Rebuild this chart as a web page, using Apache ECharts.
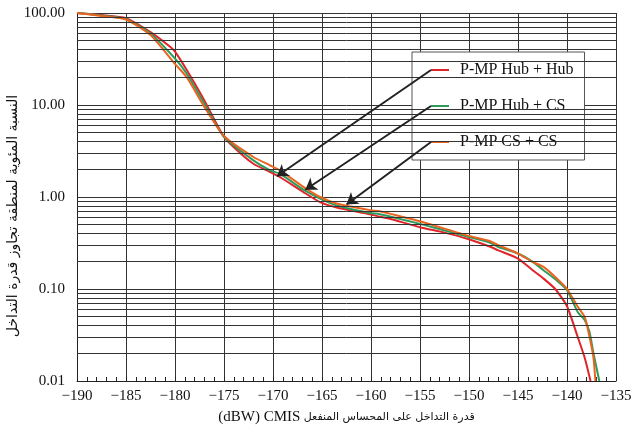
<!DOCTYPE html>
<html><head><meta charset="utf-8">
<script src="https://cdn.jsdelivr.net/npm/echarts@6/dist/echarts.min.js"></script>
<style>html,body{margin:0;padding:0;background:#fff}#c{width:635px;height:436px}</style>
</head><body><div id="c"></div>
<script>
const seriesNames = ['P-MP Hub + Hub', 'P-MP Hub + CS', 'P-MP CS + CS'];
const seriesColors = ['#e02428', '#2e9a5c', '#ea6420'];

const hubHubX = [-190, -187.5, -185, -182.5, -180.5, -180, -178.8, -177.1, -175, -173.5, -172, -170.3, -169.3, -166.9, -165.2, -163.5, -160.1, -159.1, -158.1, -155, -152.5, -150.1, -147.9, -147, -145, -143.5, -142.4, -141.2, -140, -138.9, -138.2, -137.6];
const hubHubY = [100, 95, 88, 62, 43, 38, 24, 11.7, 4.5, 3.1, 2.3, 1.87, 1.65, 1.13, 0.88, 0.77, 0.65, 0.61, 0.58, 0.47, 0.41, 0.35, 0.29, 0.263, 0.214, 0.16, 0.13, 0.10, 0.065, 0.030, 0.018, 0.01];

const hubCsX = [-190, -187.5, -185, -182.5, -180, -178.8, -177.1, -175, -172, -170.3, -169.3, -166.9, -165.2, -163.5, -160.1, -159.1, -155, -150.1, -147.9, -147, -145, -143.5, -142.4, -141.2, -140, -138.9, -138.2, -137.7, -137.3, -136.7];
const hubCsY = [100, 94, 86, 60, 32, 21.9, 10.8, 4.5, 2.5, 1.95, 1.79, 1.2, 0.96, 0.81, 0.67, 0.65, 0.51, 0.37, 0.32, 0.286, 0.243, 0.197, 0.16, 0.128, 0.097, 0.056, 0.046, 0.034, 0.02, 0.01];

const csCsX = [-190, -187.5, -185, -182.5, -180, -178.8, -177.1, -175, -172, -170.3, -169.3, -166.9, -165.2, -163.5, -160.1, -159.1, -158.1, -155, -150.1, -147.9, -147, -145, -143.5, -142.4, -141.2, -140, -138.9, -138.2, -137.7, -137.3, -137.1];
const csCsY = [100, 93, 85, 57.7, 28, 20, 9.9, 4.6, 2.72, 2.21, 1.95, 1.29, 1.0, 0.85, 0.72, 0.70, 0.66, 0.545, 0.38, 0.333, 0.30, 0.243, 0.197, 0.174, 0.135, 0.10, 0.064, 0.05, 0.03, 0.018, 0.01];

// arrow tips (data space) pointing at each curve
const arrowTipX = [-169.6, -166.7, -162.5];
const arrowTipY = [1.68, 1.20, 0.83];

const decades = [0.01, 0.1, 1, 10];
const mults = [2, 3, 4, 5, 6, 7, 8, 9];
const minorY = [];
decades.forEach(d => mults.forEach(m => minorY.push(+(d * m).toPrecision(3))));

const xTitleLatin = '(dBW) CMIS';
const xTitleArabic = 'قدرة التداخل على المحساس المنفعل';
const yTitle = 'النسبة المئوية لمنطقة تجاوز قدرة التداخل';

const serif = "'Liberation Serif', 'Times New Roman', serif";
const arabicFont = "'DejaVu Sans', sans-serif";
const gridColor = '#333';

function pairs(xs, ys) { return xs.map((x, i) => [x, ys[i]]); }
const seriesData = [pairs(hubHubX, hubHubY), pairs(hubCsX, hubCsY), pairs(csCsX, csCsY)];

const chart = echarts.init(document.getElementById('c'), null, {renderer: 'canvas'});

const legendTop = 52, legendLeft = 412, rowGap = 36;

const series = seriesNames.map((n, i) => ({
  name: n, type: 'line', data: seriesData[i], showSymbol: false, symbol: 'none',
  smooth: 0.2, z: 3,
  lineStyle: {color: seriesColors[i], width: 2},
  itemStyle: {color: seriesColors[i]},
  emphasis: {disabled: true}
}));

series.unshift({
  name: 'grid', type: 'line', data: [], z: 1, silent: true,
  markLine: {
    silent: true, symbol: ['none', 'none'], label: {show: false},
    lineStyle: {color: gridColor, width: 1, type: 'solid'},
    emphasis: {disabled: true},
    animation: false,
    data: minorY.map(v => ({yAxis: v}))
  }
});

series.push({
  name: 'arrows', type: 'line', data: [], z: 5, silent: true,
  markLine: {
    silent: true, symbol: ['none', 'arrow'], symbolSize: 11, label: {show: false},
    lineStyle: {color: '#222', width: 2, type: 'solid'},
    emphasis: {disabled: true},
    animation: false,
    data: arrowTipX.map((x, i) => [
      {x: 431, y: legendTop + 18 + i * rowGap},
      {coord: [x, arrowTipY[i]]}
    ])
  }
});

chart.setOption({
  animation: false,
  backgroundColor: '#fff',
  grid: {left: 77, right: 19, top: 13, bottom: 55, containLabel: false, outerBoundsMode: 'none'},
  legend: {
    data: seriesNames.map((n, i) => ({name: n, icon: 'rect', itemStyle: {color: seriesColors[i]}})),
    orient: 'vertical', left: legendLeft, top: legendTop,
    padding: [8, 11, 8, 19],
    itemWidth: 18, itemHeight: 2, itemGap: 16,
    backgroundColor: '#fff', borderColor: '#555', borderWidth: 1,
    selectedMode: false,
    textStyle: {fontFamily: serif, fontSize: 16, color: '#111', lineHeight: 20, padding: [0, 0, 0, 6]}
  },
  xAxis: {
    type: 'value', min: -190, max: -135, interval: 5,
    axisLine: {show: true, onZero: false, lineStyle: {color: '#222', width: 1}},
    axisTick: {show: true, inside: true, length: 4, lineStyle: {color: '#222'}},
    minorTick: {show: true, splitNumber: 5, length: 4, lineStyle: {color: '#222'}},
    splitLine: {show: true, lineStyle: {color: gridColor, width: 1}},
    axisLabel: {
      fontFamily: serif, fontSize: 15, color: '#111', margin: 8,
      formatter: v => v < 0 ? '\u2212' + Math.abs(v) : String(v)
    },
    name: '{l|' + xTitleLatin + '} {a|' + xTitleArabic + '}',
    nameLocation: 'middle', nameGap: 29, nameMoveOverlap: false,
    nameTextStyle: {
      color: '#111',
      rich: {
        l: {fontFamily: serif, fontSize: 15, color: '#111'},
        a: {fontFamily: arabicFont, fontSize: 11, color: '#111'}
      }
    }
  },
  yAxis: {
    type: 'log', logBase: 10, min: 0.01, max: 100,
    axisLine: {show: true, lineStyle: {color: '#222', width: 1}},
    axisTick: {show: false},
    splitLine: {show: true, lineStyle: {color: gridColor, width: 1}},
    axisLabel: {
      fontFamily: serif, fontSize: 15, color: '#111', margin: 12,
      formatter: v => Number(v).toFixed(2)
    },
    name: yTitle, nameLocation: 'middle', nameGap: 57, nameMoveOverlap: false,
    nameTextStyle: {fontFamily: arabicFont, fontSize: 14, color: '#111', padding: [0, 38, 0, 0]}
  },
  series: series
});
</script>
</body></html>
